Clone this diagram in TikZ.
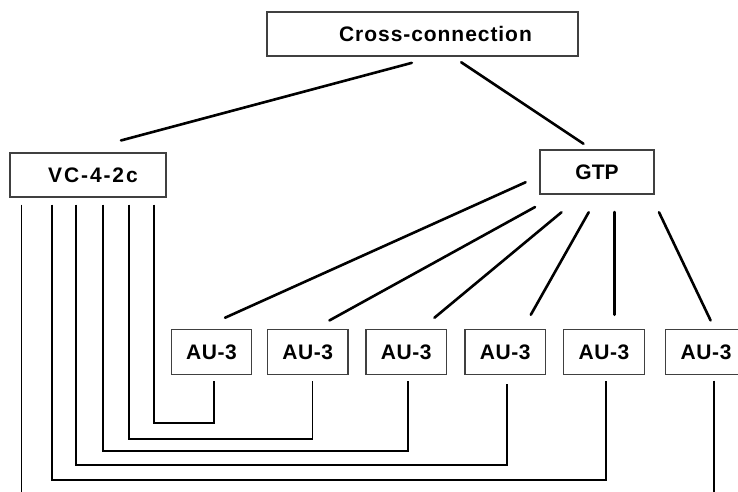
\documentclass[tikz,border=0pt]{standalone}
\usepackage{fontspec}
\setmainfont{Liberation Sans}
\usetikzlibrary{calc}

\begin{document}
\begin{tikzpicture}[x=1pt,y=-1pt,
  blockbox/.style={draw=black!75,line width=1.1pt,rectangle,inner sep=0pt,
    minimum height=44pt,text=black,
    font=\fontsize{21}{24}\selectfont\bfseries\addfontfeature{LetterSpace=3}},
  aubox/.style={blockbox,minimum width=80.5pt,minimum height=45pt},
  branch/.style={line width=2.6pt,line cap=round},
  route/.style={line width=1.9pt}]

\useasboundingbox (0,0) rectangle (738,491);

% upper level
\node[blockbox,minimum width=311pt] (cc) at (422.5,34)
  {\hspace*{26pt}\addfontfeature{LetterSpace=4.5}Cross-connection};
\node[blockbox,minimum width=156pt] (vc) at (88,175)
  {\hspace*{10pt}\addfontfeature{LetterSpace=9}VC-4-2c};
\node[blockbox,minimum width=114pt] (gtp) at (597,172)
  {\addfontfeature{LetterSpace=0}GTP};

% row of AU-3 boxes
\node[aubox] (au1) at (211.5,352) {AU-3};
\node[aubox] (au2) at (307.75,352) {AU-3};
\node[aubox] (au3) at (406.25,352) {AU-3};
\node[aubox] (au4) at (505.25,352) {AU-3};
\node[aubox] (au5) at (604,352) {AU-3};
\node[aubox] (au6) at (706,352) {AU-3};

% cross-connection branches
\draw[branch] ($(cc.south)+(-10.7,6.3)$) -- ($(vc.north)+(33,-12)$);
\draw[branch] ($(cc.south)+(38.7,5.7)$) -- ($(gtp.north)+(-13.5,-5.7)$);

% GTP fan-out to the AU-3 boxes
\draw[branch] ($(gtp.south)+(-71.4,-12.3)$) -- ($(au1.north)+(13.5,-11.2)$);
\draw[branch] ($(gtp.south)+(-62,12.5)$)   -- ($(au2.north)+(21.65,-8.5)$);
\draw[branch] ($(gtp.south)+(-35.5,17.7)$) -- ($(au3.north)+(28.15,-11.2)$);
\draw[branch] ($(gtp.south)+(-8.3,17.7)$)  -- ($(au4.north)+(25.55,-14.2)$);
\draw[branch] ($(gtp.south)+(17.5,17.5)$)  -- ($(au5.north)+(10.5,-14.2)$);
\draw[branch] ($(gtp.south)+(62,17.7)$)    -- ($(au6.north)+(4.6,-8.5)$);

% VC-4-2c tributaries routed to the AU-3 boxes
\draw[route] ($(vc.south)+(65.7,7)$)  |- ($(au1.south)+(2.2,48)$)  -- ($(au1.south)+(2.2,5.5)$);
\draw[route] ($(vc.south)+(41.4,7)$)  |- ($(au2.south)+(4.75,63.5)$) -- ($(au2.south)+(4.75,5.5)$);
\draw[route] ($(vc.south)+(14.9,7)$)  |- ($(au3.south)+(1.75,75.5)$) -- ($(au3.south)+(1.75,5.5)$);
\draw[route] ($(vc.south)+(-12.3,7)$) |- ($(au4.south)+(1.55,90)$)  -- ($(au4.south)+(1.55,8.8)$);
\draw[route] ($(vc.south)+(-36.3,7)$) |- ($(au5.south)+(2,104.8)$) -- ($(au5.south)+(2,5.5)$);

% lines leaving the picture at the bottom
\coordinate (vcout) at (21.5,496);
\coordinate (auout) at (714,496);
\draw[route] ($(vc.south)+(-66.5,7)$) -- (vcout);
\draw[route] ($(au6.south)+(8,5.5)$) -- (auout);
\end{tikzpicture}
\end{document}
